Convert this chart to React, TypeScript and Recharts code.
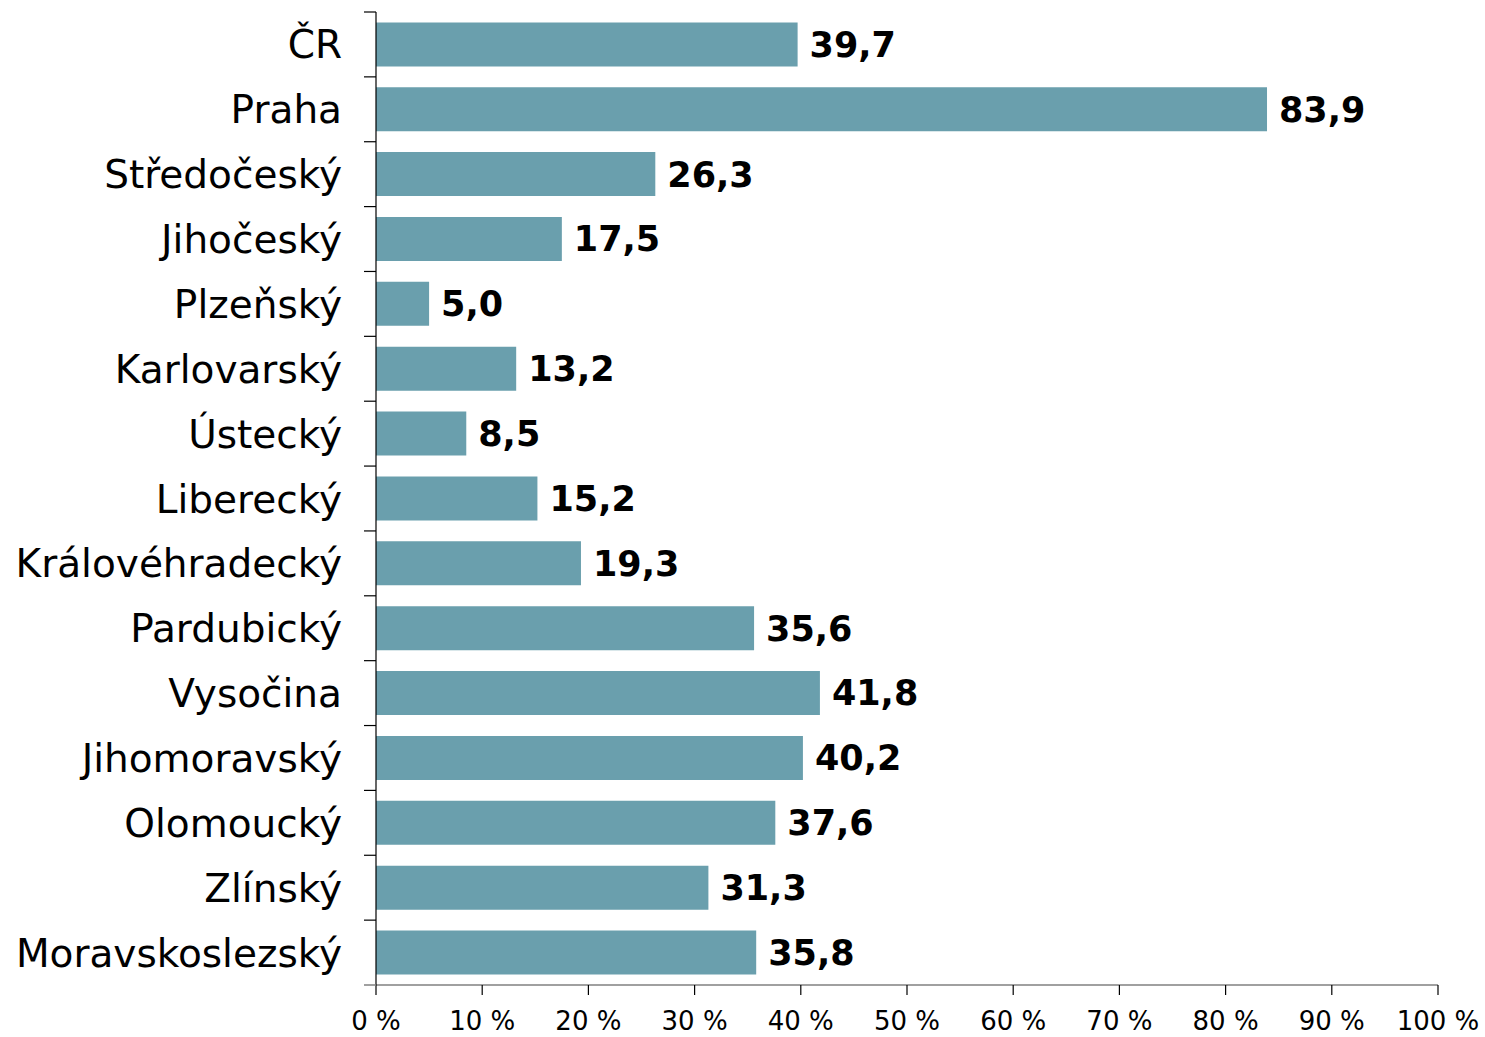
import React from 'react';
import { BarChart, Bar, XAxis, YAxis, LabelList } from 'recharts';

const regions = ['ČR', 'Praha', 'Středočeský', 'Jihočeský', 'Plzeňský', 'Karlovarský', 'Ústecký', 'Liberecký', 'Královéhradecký', 'Pardubický', 'Vysočina', 'Jihomoravský', 'Olomoucký', 'Zlínský', 'Moravskoslezský'];
const values = [39.7, 83.9, 26.3, 17.5, 5.0, 13.2, 8.5, 15.2, 19.3, 35.6, 41.8, 40.2, 37.6, 31.3, 35.8];
const xTicks = [0, 10, 20, 30, 40, 50, 60, 70, 80, 90, 100];

const data = regions.map((r, i) => ({ name: r, value: values[i] }));

const W = 1485;
const H = 1037;
const TOP = 12;
const XAXIS_H = 52;
const BAND = (H - TOP - XAXIS_H) / regions.length;
const FONT = 'Verdana, "DejaVu Sans", sans-serif';

const YTick = (props: any) => {
  const { x, y, payload, index } = props;
  const last = index === regions.length - 1;
  return (
    <g>
      <line x1={x - 6} x2={x + 6} y1={y - BAND / 2} y2={y - BAND / 2} stroke="#000" strokeWidth={1.2} />
      {last && (
        <line x1={x - 6} x2={x + 6} y1={y + BAND / 2} y2={y + BAND / 2} stroke="#808080" strokeWidth={1.5} />
      )}
      <text x={x - 28} y={y} dy="0.36em" textAnchor="end" fontSize={39} fill="#000" fontFamily={FONT}>
        {payload.value}
      </text>
    </g>
  );
};

export default function App() {
  return (
    <div style={{ position: 'absolute', left: 0, top: 0, background: '#fff' }}>
      <BarChart
        width={W}
        height={H}
        data={data}
        layout="vertical"
        margin={{ top: TOP, right: 47, bottom: 0, left: 0 }}
        barCategoryGap="16%"
      >
        <XAxis
          type="number"
          domain={[0, 100]}
          ticks={xTicks}
          interval={0}
          tickFormatter={(v: number) => `${v} %`}
          height={XAXIS_H}
          axisLine={{ stroke: '#808080', strokeWidth: 1.5 }}
          tickLine={{ stroke: '#000', strokeWidth: 1.2 }}
          tickSize={10}
          tickMargin={17}
          tick={{ fontSize: 26, fill: '#000', fontFamily: FONT }}
        />
        <YAxis
          type="category"
          dataKey="name"
          width={376}
          axisLine={{ stroke: '#000', strokeWidth: 1.2 }}
          tickLine={false}
          tickMargin={0}
          tick={<YTick />}
          interval={0}
        />
        <Bar dataKey="value" fill="#6A9FAD" isAnimationActive={false}>
          <LabelList
            dataKey="value"
            position="right"
            offset={12}
            formatter={(v: number) => v.toFixed(1).replace('.', ',')}
            style={{ fontSize: 35, fontWeight: 'bold', fill: '#000', fontFamily: FONT }}
          />
        </Bar>
      </BarChart>
    </div>
  );
}
